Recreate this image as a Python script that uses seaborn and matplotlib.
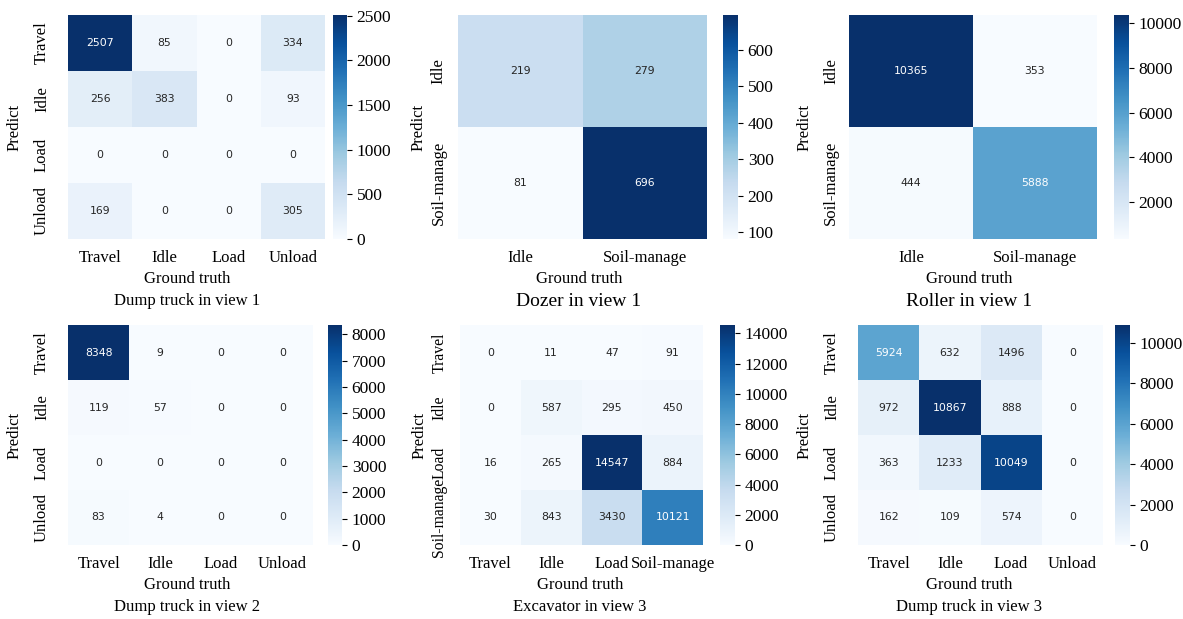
import numpy as np
import pandas as pd
import matplotlib
matplotlib.use("Agg")
import matplotlib.pyplot as plt
import seaborn as sns
from matplotlib.ticker import MultipleLocator

# ---- data ----
four_classes = ["Travel", "Idle", "Load", "Unload"]
two_classes = ["Idle", "Soil-manage"]
exc_classes = ["Travel", "Idle", "Load", "Soil-manage"]

dump_truck_v1 = [[2507, 85, 0, 334],
                 [256, 383, 0, 93],
                 [0, 0, 0, 0],
                 [169, 0, 0, 305]]
dozer_v1 = [[219, 279],
            [81, 696]]
roller_v1 = [[10365, 353],
             [444, 5888]]
dump_truck_v2 = [[8348, 9, 0, 0],
                 [119, 57, 0, 0],
                 [0, 0, 0, 0],
                 [83, 4, 0, 0]]
excavator_v3 = [[0, 11, 47, 91],
                [0, 587, 295, 450],
                [16, 265, 14547, 884],
                [30, 843, 3430, 10121]]
dump_truck_v3 = [[5924, 632, 1496, 0],
                 [972, 10867, 888, 0],
                 [363, 1233, 10049, 0],
                 [162, 109, 574, 0]]

titles = ["Dump truck in view 1", "Dozer in view 1", "Roller in view 1",
          "Dump truck in view 2", "Excavator in view 3", "Dump truck in view 3"]

plt.rcParams['font.family'] = ['Liberation Serif', 'DejaVu Serif']

W, H = 1183, 619
fig = plt.figure(figsize=(W / 100, H / 100), dpi=100)


def rect(l, t, r, b):
    return [l / W, 1 - b / H, (r - l) / W, (b - t) / H]


panels = [
    (dump_truck_v1, four_classes, (68, 15, 325, 239), (333, 15, 347, 239), 500, 187, 15, 12, 13, 12),
    (dozer_v1, two_classes, (458, 15, 707, 239), (723, 15, 738, 239), 100, 579, 419, 14, 8, 12),
    (roller_v1, two_classes, (849, 15, 1097, 239), (1114, 15, 1129, 239), 2000, 969, 805, 14, 7, 12),
    (dump_truck_v2, four_classes, (68, 325, 313, 545), (328, 325, 342, 545), 1000, 187, 15, 12, 13, 12),
    (excavator_v3, exc_classes, (460, 325, 703, 545), (720, 325, 735, 545), 2000, 580, 420, 12, 9, 11.3),
    (dump_truck_v3, four_classes, (858, 325, 1103, 545), (1115, 325, 1130, 545), 2000, 969, 805, 12, 13, 12),
]

for i, (mat, labels, hr, cr, step, cx, px, tsize, ypad, ysize) in enumerate(panels):
    ax = fig.add_axes(rect(*hr))
    cax = fig.add_axes(rect(*cr))
    df = pd.DataFrame(mat, index=labels, columns=labels)
    sns.heatmap(df, ax=ax, cbar_ax=cax, cmap="Blues", annot=True, fmt="d",
                annot_kws={"fontsize": 7.8, "family": "DejaVu Sans"})
    ax.tick_params(axis="x", length=0, labelsize=12, pad=8)
    ax.tick_params(axis="y", length=0, labelsize=ysize, pad=ypad)
    for t in ax.get_yticklabels():
        t.set_rotation(90)
        t.set_va("center")
    ax.set_xlabel("")
    ax.set_ylabel("")
    cax.yaxis.set_major_locator(MultipleLocator(step))
    cax.tick_params(labelsize=12.5, length=3.5, width=0.8)
    top = hr[1]
    bot = hr[3]
    fig.text(cx / W, 1 - (bot + 40) / H, "Ground truth", ha="center", va="center", fontsize=12)
    fig.text(cx / W, 1 - (bot + 62) / H, titles[i], ha="center", va="center", fontsize=tsize)
    fig.text(px / W, 1 - ((top + bot) / 2) / H, "Predict", ha="center", va="center",
             rotation=90, fontsize=12)

fig.savefig("out.png", dpi=100)
